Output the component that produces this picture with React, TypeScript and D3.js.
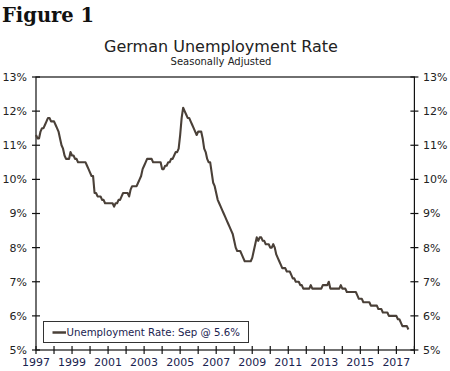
import React from "react";
import * as d3 from "d3";

const startYear = 1997;
const y1997 = [11.3, 11.2, 11.2, 11.4, 11.5, 11.5, 11.6, 11.7, 11.8, 11.8, 11.7, 11.7];
const y1998 = [11.7, 11.6, 11.5, 11.4, 11.2, 11.0, 10.9, 10.7, 10.6, 10.6, 10.6, 10.8];
const y1999 = [10.7, 10.7, 10.6, 10.6, 10.5, 10.5, 10.5, 10.5, 10.5, 10.5, 10.4, 10.3];
const y2000 = [10.2, 10.1, 10.1, 9.6, 9.6, 9.5, 9.5, 9.5, 9.4, 9.4, 9.3, 9.3];
const y2001 = [9.3, 9.3, 9.3, 9.3, 9.2, 9.3, 9.3, 9.4, 9.4, 9.5, 9.6, 9.6];
const y2002 = [9.6, 9.6, 9.5, 9.7, 9.8, 9.8, 9.8, 9.8, 9.9, 10.0, 10.1, 10.3];
const y2003 = [10.4, 10.5, 10.6, 10.6, 10.6, 10.6, 10.5, 10.5, 10.5, 10.5, 10.5, 10.5];
const y2004 = [10.3, 10.3, 10.4, 10.4, 10.5, 10.5, 10.6, 10.6, 10.7, 10.8, 10.8, 10.9];
const y2005 = [11.3, 11.8, 12.1, 12.0, 11.9, 11.8, 11.8, 11.7, 11.6, 11.5, 11.4, 11.3];
const y2006 = [11.4, 11.4, 11.4, 11.2, 10.9, 10.8, 10.6, 10.5, 10.5, 10.2, 9.9, 9.8];
const y2007 = [9.6, 9.4, 9.3, 9.2, 9.1, 9.0, 8.9, 8.8, 8.7, 8.6, 8.5, 8.4];
const y2008 = [8.2, 8.0, 7.9, 7.9, 7.9, 7.8, 7.7, 7.6, 7.6, 7.6, 7.6, 7.6];
const y2009 = [7.7, 7.9, 8.1, 8.3, 8.2, 8.3, 8.3, 8.2, 8.2, 8.1, 8.1, 8.1];
const y2010 = [8.0, 8.0, 8.1, 8.0, 7.8, 7.7, 7.6, 7.5, 7.4, 7.4, 7.4, 7.3];
const y2011 = [7.3, 7.3, 7.2, 7.1, 7.1, 7.0, 7.0, 7.0, 6.9, 6.9, 6.8, 6.8];
const y2012 = [6.8, 6.8, 6.8, 6.9, 6.8, 6.8, 6.8, 6.8, 6.8, 6.8, 6.8, 6.9];
const y2013 = [6.9, 6.9, 6.9, 7.0, 6.8, 6.8, 6.8, 6.8, 6.8, 6.8, 6.8, 6.9];
const y2014 = [6.8, 6.8, 6.8, 6.7, 6.7, 6.7, 6.7, 6.7, 6.7, 6.7, 6.6, 6.5];
const y2015 = [6.5, 6.5, 6.4, 6.4, 6.4, 6.4, 6.4, 6.3, 6.3, 6.3, 6.3, 6.3];
const y2016 = [6.2, 6.2, 6.2, 6.1, 6.1, 6.1, 6.1, 6.0, 6.0, 6.0, 6.0, 6.0];
const y2017 = [6.0, 5.9, 5.9, 5.8, 5.7, 5.7, 5.7, 5.7, 5.6];

const yearlySeries = [
  y1997, y1998, y1999, y2000, y2001, y2002, y2003, y2004, y2005, y2006, y2007,
  y2008, y2009, y2010, y2011, y2012, y2013, y2014, y2015, y2016, y2017,
];

const yTicks = [5, 6, 7, 8, 9, 10, 11, 12, 13];
const xTickYears = d3.range(1997, 2019);
const xLabelYears = [1997, 1999, 2001, 2003, 2005, 2007, 2009, 2011, 2013, 2015, 2017];

const figureLabel = "Figure 1";
const title = "German Unemployment Rate";
const subtitle = "Seasonally Adjusted";
const legendLabel = "Unemployment Rate: Sep @ 5.6%";

type Pt = { t: number; v: number };
const data: Pt[] = [];
yearlySeries.forEach((arr, yi) => {
  arr.forEach((v, mi) => data.push({ t: startYear + yi + mi / 12, v }));
});

const W = 450;
const H = 371;
const left = 36;
const right = 414.4;
const top = 77;
const bottom = 350;

export default function App() {
  const x = d3.scaleLinear().domain([1997, 2018]).range([left, right]);
  const y = d3.scaleLinear().domain([5, 13]).range([bottom, top]);
  const line = d3
    .line<Pt>()
    .x((d) => x(d.t))
    .y((d) => y(d.v))
    .curve(d3.curveLinear);

  const font = "'DejaVu Sans', Verdana, sans-serif";
  const lineColor = "#4a4038";

  return (
    <svg
      width={W}
      height={H}
      style={{ position: "fixed", left: 0, top: 0, background: "#fff" }}
      fontFamily={font}
    >
      <rect x={0} y={0} width={W} height={H} fill="#fff" />
      <text
        x={2}
        y={22}
        fontFamily="'DejaVu Serif', Georgia, serif"
        fontWeight="bold"
        fontSize={19.5}
        fill="#111"
      >
        {figureLabel}
      </text>
      <text x={221} y={51.5} textAnchor="middle" fontSize={16} fill="#222">
        {title}
      </text>
      <text x={221} y={65} textAnchor="middle" fontSize={10} fill="#222">
        {subtitle}
      </text>

      {/* frame */}
      <rect
        x={left}
        y={top}
        width={right - left}
        height={bottom - top}
        fill="none"
        stroke="#111"
        strokeWidth={1.2}
      />

      {/* y ticks and labels */}
      {yTicks.map((v) => (
        <g key={v}>
          <line x1={left - 4} x2={left + 4} y1={y(v)} y2={y(v)} stroke="#111" strokeWidth={1.2} />
          <line x1={right - 4} x2={right + 4} y1={y(v)} y2={y(v)} stroke="#111" strokeWidth={1.2} />
          <text x={27} y={y(v)} dy="0.36em" textAnchor="end" fontSize={11} fill="#222">
            {v}%
          </text>
          <text x={423} y={y(v)} dy="0.36em" textAnchor="start" fontSize={11} fill="#222">
            {v}%
          </text>
        </g>
      ))}

      {/* x ticks */}
      {xTickYears.map((yr) => (
        <line
          key={yr}
          x1={x(yr)}
          x2={x(yr)}
          y1={bottom - 4}
          y2={bottom + 4}
          stroke="#111"
          strokeWidth={1.2}
        />
      ))}
      {xLabelYears.map((yr) => (
        <text key={yr} x={x(yr)} y={366} textAnchor="middle" fontSize={11} fill="#1a2350">
          {yr}
        </text>
      ))}

      {/* data line */}
      <path d={line(data) || ""} fill="none" stroke={lineColor} strokeWidth={2.1} strokeLinejoin="round" />

      {/* legend */}
      <rect x={43.5} y={321.5} width={205} height={21} fill="#fff" stroke="#333" strokeWidth={1} />
      <line x1={52.5} x2={66} y1={332.5} y2={332.5} stroke={lineColor} strokeWidth={2.5} />
      <text x={66.5} y={332.5} dy="0.36em" fontSize={10.2} fill="#1a2350">
        {legendLabel}
      </text>
    </svg>
  );
}
